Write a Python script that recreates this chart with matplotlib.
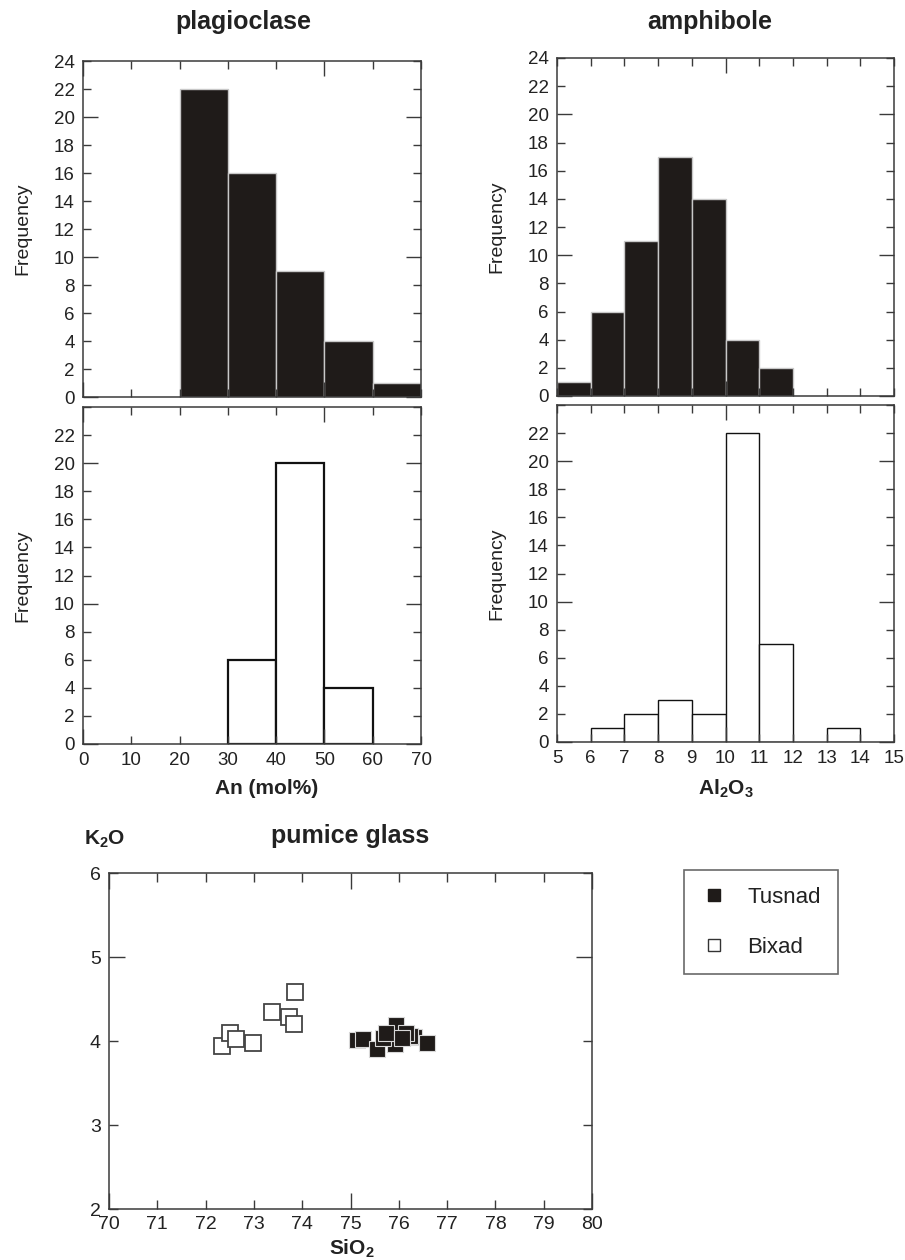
"""Mineral chemistry histograms and pumice glass K2O vs SiO2."""

import numpy as np
import matplotlib
matplotlib.use('Agg')
import matplotlib.pyplot as plt
from matplotlib.ticker import MultipleLocator, FuncFormatter
from matplotlib.lines import Line2D

plt.rcParams['font.family'] = ['Liberation Sans', 'DejaVu Sans']
plt.rcParams['mathtext.fontset'] = 'custom'
plt.rcParams['mathtext.rm'] = 'Liberation Sans'
plt.rcParams['mathtext.bf'] = 'Liberation Sans:bold'

# plagioclase An (mol%), bins of 10
plag_edges = [0, 10, 20, 30, 40, 50, 60, 70]
plag_tusnad = [0, 0, 22, 16, 9, 4, 1]
plag_bixad = [0, 0, 0, 6, 20, 4, 0]

# amphibole Al2O3, bins of 1
amph_edges = [5, 6, 7, 8, 9, 10, 11, 12, 13, 14, 15]
amph_tusnad = [1, 6, 11, 17, 14, 4, 2, 0, 0, 0]
amph_bixad = [0, 1, 2, 3, 2, 22, 7, 0, 1, 0]

# pumice glass
bix_sio2 = [72.33, 72.51, 72.62, 72.98, 73.38, 73.73, 73.82, 73.86]
bix_k2o = [3.94, 4.09, 4.02, 3.98, 4.35, 4.29, 4.20, 4.58]
tus_sio2 = [75.13, 75.26, 75.55, 75.93, 75.94, 76.31, 76.24, 76.14, 76.59, 75.68, 75.74, 76.07]
tus_k2o = [4.01, 4.02, 3.90, 3.96, 4.19, 4.05, 4.06, 4.10, 3.98, 4.04, 4.09, 4.04]

W, H = 905, 1260
DARK = '#1f1b19'
SPINE = '#3a3a3a'
INK = '#222222'


def box(x0, y0, x1, y1):
    return [x0 / W, 1 - y1 / H, (x1 - x0) / W, (y1 - y0) / H]


def style(ax, xmaj, xmin, ymaj, ymin, fs=13.5, long=11, short=5.5):
    for s in ax.spines.values():
        s.set_color(SPINE)
        s.set_linewidth(1.1)
    ax.xaxis.set_major_locator(MultipleLocator(xmaj))
    ax.xaxis.set_minor_locator(MultipleLocator(xmin))
    ax.yaxis.set_major_locator(MultipleLocator(ymaj))
    ax.yaxis.set_minor_locator(MultipleLocator(ymin))
    fmt = FuncFormatter(lambda v, p: '%d' % round(v))
    for axis in (ax.xaxis, ax.yaxis):
        axis.set_major_formatter(fmt)
        axis.set_minor_formatter(fmt)
    ax.tick_params(which='both', direction='in', top=True, right=True,
                   color=SPINE, width=1.0, labelsize=fs, labelcolor=INK)
    ax.tick_params(which='major', length=long)
    ax.tick_params(which='minor', length=short)
    ax.tick_params(axis='y', which='both', pad=6)
    ax.tick_params(axis='x', which='both', pad=6)


def hist_panel(rect, edges, counts, filled, lw=1.0):
    ax = fig.add_axes(rect)
    edges = np.array(edges, dtype=float)
    counts = np.array(counts, dtype=float)
    keep = counts > 0
    widths = np.diff(edges)
    if filled:
        ax.bar(edges[:-1][keep], counts[keep], width=widths[keep], align='edge',
               color=DARK, edgecolor='#c8c8c8', linewidth=1.0, zorder=1)
    else:
        ax.bar(edges[:-1][keep], counts[keep], width=widths[keep], align='edge',
               color='white', edgecolor='#111111', linewidth=lw, zorder=1)
    ax.set_xlim(edges[0], edges[-1])
    ax.set_ylim(0, 24)
    return ax


no_top = FuncFormatter(lambda v, p: '' if v > 23 else '%d' % round(v))

fig = plt.figure(figsize=(W / 100, H / 100), dpi=100)

# plagioclase
ax1 = hist_panel(box(83, 61, 421, 397), plag_edges, plag_tusnad, True)
style(ax1, 50, 10, 10, 2)
ax1.tick_params(which='both', labelbottom=False)
ax2 = hist_panel(box(83, 407, 421, 744), plag_edges, plag_bixad, False, lw=1.6)
style(ax2, 50, 10, 10, 2)
ax2.yaxis.set_minor_formatter(no_top)

# amphibole
ax3 = hist_panel(box(557, 58, 894, 396), amph_edges, amph_tusnad, True)
style(ax3, 10, 1, 10, 2)
ax3.tick_params(which='both', labelbottom=False)
ax4 = hist_panel(box(557, 405, 894, 742), amph_edges, amph_bixad, False, lw=1.0)
style(ax4, 10, 1, 10, 2)
ax4.yaxis.set_minor_formatter(no_top)

for ax in (ax1, ax2, ax3, ax4):
    ax.set_ylabel('Frequency', fontsize=14, color=INK, labelpad=16)

fig.text(243 / W, 1 - 22 / H, 'plagioclase', ha='center', va='center',
         fontsize=18, fontweight='bold', color=INK)
fig.text(710 / W, 1 - 22 / H, 'amphibole', ha='center', va='center',
         fontsize=18, fontweight='bold', color=INK)
fig.text(267 / W, 1 - 789 / H, 'An (mol%)', ha='center', va='center',
         fontsize=15, fontweight='bold', color=INK)
fig.text(726 / W, 1 - 789 / H, r'$\mathbf{Al_2O_3}$', ha='center', va='center',
         fontsize=15, color=INK)

# pumice glass
ax5 = fig.add_axes(box(109, 873, 592, 1209))
ax5.plot(bix_sio2, bix_k2o, ls='none', marker='s', ms=12, mfc='white',
         mec='#444444', mew=1.3, zorder=3)
ax5.plot(tus_sio2, tus_k2o, ls='none', marker='s', ms=11.5, mfc=DARK,
         mec='#d8d8d8', mew=0.8, zorder=3)
ax5.set_xlim(70, 80)
ax5.set_ylim(2, 6)
style(ax5, 5, 1, 5, 1, fs=14, long=11.5, short=6.5)
ax5.tick_params(axis='x', which='both', pad=5)

fig.text(350 / W, 1 - 836 / H, 'pumice glass', ha='center', va='center',
         fontsize=18, fontweight='bold', color=INK)
fig.text(84 / W, 1 - 839 / H, r'$\mathbf{K_2O}$', ha='left', va='center',
         fontsize=15, color=INK)
fig.text(352 / W, 1 - 1249 / H, r'$\mathbf{SiO_2}$', ha='center', va='center',
         fontsize=15, color=INK)

handles = [
    Line2D([], [], ls='none', marker='s', ms=9, mfc=DARK, mec=DARK, label='Tusnad'),
    Line2D([], [], ls='none', marker='s', ms=9, mfc='white', mec='#333333',
           mew=1.0, label='Bixad'),
]
leg = fig.legend(handles=handles, loc='upper left',
                 bbox_to_anchor=(684 / W, 1 - 870 / H), frameon=True,
                 fancybox=False, edgecolor='#444444', fontsize=16,
                 labelspacing=1.3, handletextpad=0.9, borderpad=0.75,
                 handlelength=1.2, borderaxespad=0)
leg.get_frame().set_linewidth(1.2)
for t in leg.get_texts():
    t.set_color(INK)

fig.savefig('out.png', dpi=100, facecolor='white')
